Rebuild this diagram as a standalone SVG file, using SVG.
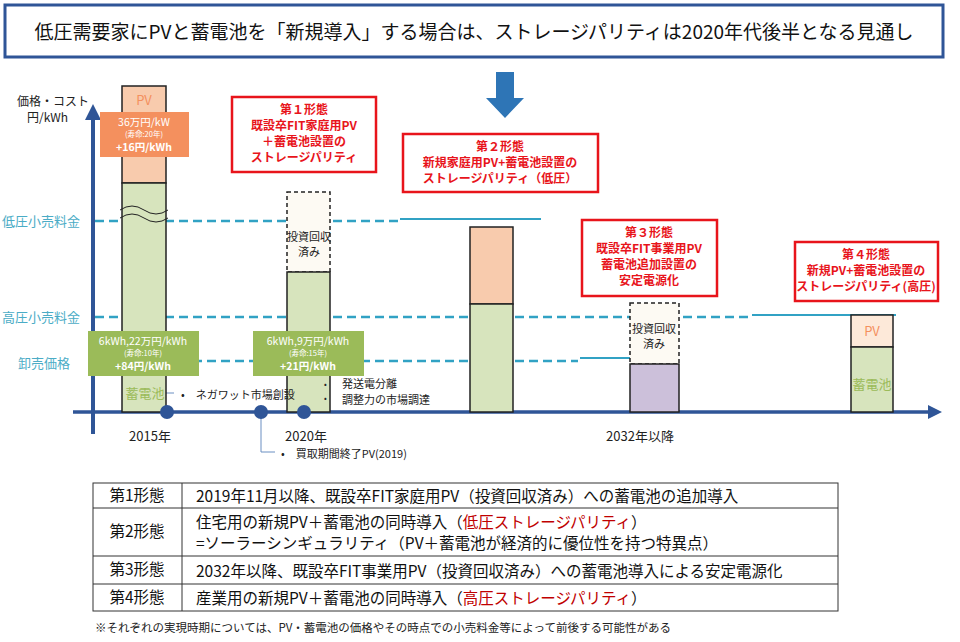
<svg xmlns="http://www.w3.org/2000/svg" width="960" height="642" viewBox="0 0 960 642">
<defs>
<style>
text{font-family:"Noto Sans CJK JP","Noto Sans",sans-serif}
.rb{fill:#fff;stroke:#e8141b;stroke-width:2.5}
.rt{fill:#e8141b;font-size:12px;font-weight:bold;text-anchor:middle}
.lbl{fill:#4bacc6;font-size:13px}
.dash{stroke:#31a2c4;stroke-width:2.5;stroke-dasharray:9,5;fill:none}
.sol{stroke:#31a2c4;stroke-width:2;fill:none}
.bar{stroke:#222;stroke-width:1.5}
.wt{fill:#fff;text-anchor:middle}
.bk{fill:#222;font-size:11px}
.tb{fill:none;stroke:#333;stroke-width:1}
.tt{fill:#111;font-size:15.5px}
</style>
<marker id="ah" viewBox="0 0 10 10" refX="5" refY="5" markerWidth="4" markerHeight="4" orient="auto"><path d="M0,0L10,5L0,10z" fill="#2f5597"/></marker>
</defs>
<rect width="960" height="642" fill="#fff"/>
<g id="title"><rect x="5" y="5" width="938" height="52" fill="#fff" stroke="#2f5597" stroke-width="3"/>
<text x="474" y="39" text-anchor="middle" font-size="19" fill="#111">低圧需要家にPVと蓄電池を「新規導入」する場合は、ストレージパリティは2020年代後半となる見通し</text></g>
<g id="downarrow"><path d="M496,72h18v26h10l-19,20l-19,-20h10z" fill="#2e75b6"/></g>
<g id="connectors">
<line x1="93" y1="434" x2="93" y2="112" stroke="#2f5597" stroke-width="4" marker-end="url(#ah)"/>
<line x1="73" y1="412" x2="935" y2="412" stroke="#2f5597" stroke-width="3.5" marker-end="url(#ah)"/>
<path class="dash" d="M95,221H400"/><path class="sol" d="M400,219H541"/>
<path class="dash" d="M95,317H750"/><path class="sol" d="M752,315H896"/>
<path class="dash" d="M95,361H578"/><path class="sol" d="M580,358H677"/>
<path d="M166,393h8M304,405V390h16M261,418V452h14" fill="none" stroke="#6b8fc2" stroke-width="1"/>
</g>
<g id="axislabels">
<text x="17" y="106" font-size="12" fill="#222">価格・コスト</text>
<text x="27" y="122" font-size="12" fill="#222">円/kWh</text>
<text class="lbl" x="2" y="226">低圧小売料金</text>
<text class="lbl" x="2" y="322">高圧小売料金</text>
<text class="lbl" x="18" y="368">卸売価格</text>
<text x="150" y="441" font-size="13" fill="#222" text-anchor="middle">2015年</text>
<text x="306" y="441" font-size="13" fill="#222" text-anchor="middle">2020年</text>
<text x="640" y="441" font-size="13" fill="#222" text-anchor="middle">2032年以降</text>
</g>
<g id="bar2015">
<rect class="bar" x="122" y="86" width="44" height="97" fill="#f8cbad"/>
<rect class="bar" x="122" y="183" width="44" height="229" fill="#d7e4bd"/>
<text x="144" y="105" text-anchor="middle" font-size="13" fill="#f4905e">PV</text>
<path d="M120,210q12,-8 24,0t24,0M120,218q12,-8 24,0t24,0" fill="none" stroke="#222" stroke-width="1"/>
<text x="145" y="398" text-anchor="middle" font-size="13" fill="#9bbb59">蓄電池</text>
<rect x="100" y="112" width="89" height="45" fill="#f4905e"/>
<text class="wt" x="144" y="126" font-size="10.5">36万円/kW</text>
<text class="wt" x="144" y="137" font-size="7.5">(寿命:20年)</text>
<text class="wt" x="144" y="151" font-size="10.5" font-weight="bold">+16円/kWh</text>
<rect x="88" y="331" width="111" height="45" fill="#9bbb59"/>
<text class="wt" x="143" y="345" font-size="10.5">6kWh,22万円/kWh</text>
<text class="wt" x="143" y="356" font-size="7.5">(寿命:10年)</text>
<text class="wt" x="143" y="370" font-size="10.5" font-weight="bold">+84円/kWh</text>
</g>
<g id="bar2020">
<rect x="287" y="192" width="43" height="80" fill="#fdfaf3" stroke="#222" stroke-width="1.5" stroke-dasharray="4,3"/>
<rect class="bar" x="287" y="272" width="43" height="140" fill="#d7e4bd"/>
<text x="309" y="241" text-anchor="middle" font-size="11" fill="#222">投資回収</text>
<text x="309" y="256" text-anchor="middle" font-size="11" fill="#222">済み</text>
<rect x="253" y="331" width="111" height="45" fill="#9bbb59"/>
<text class="wt" x="308" y="345" font-size="10.5">6kWh,9万円/kWh</text>
<text class="wt" x="308" y="356" font-size="7.5">(寿命:15年)</text>
<text class="wt" x="308" y="370" font-size="10.5" font-weight="bold">+21円/kWh</text>
</g>
<g id="dots" fill="#2f5597"><circle cx="167" cy="412" r="7"/><circle cx="261" cy="412" r="7"/><circle cx="304" cy="412" r="7"/></g>
<g id="notes">
<text class="bk" x="181" y="399">•　ネガワット市場創設</text>
<text x="324" y="387" font-size="8" fill="#222">•</text><text x="324" y="401" font-size="8" fill="#222">•</text>
<text class="bk" x="342" y="388">発送電分離</text>
<text class="bk" x="342" y="404">調整力の市場調達</text>
<text class="bk" x="281" y="458">•　買取期間終了PV(2019)</text>
</g>
<g id="box1"><rect class="rb" x="232" y="97" width="144" height="75"/>
<text class="rt" x="304" y="114">第１形態</text><text class="rt" x="304" y="130">既設卒FIT家庭用PV</text><text class="rt" x="304" y="146">＋蓄電池設置の</text><text class="rt" x="304" y="162">ストレージパリティ</text></g>
<g id="box2"><rect class="rb" x="403" y="134" width="195" height="58"/>
<text class="rt" x="500" y="151">第２形態</text><text class="rt" x="500" y="167">新規家庭用PV+蓄電池設置の</text><text class="rt" x="500" y="183">ストレージパリティ（低圧）</text></g>
<g id="bar3"><rect class="bar" x="470" y="227" width="43" height="77" fill="#f8cbad"/><rect class="bar" x="470" y="304" width="43" height="108" fill="#d7e4bd"/></g>
<g id="box3"><rect class="rb" x="582" y="220" width="135" height="76"/>
<text class="rt" x="649" y="237">第３形態</text><text class="rt" x="649" y="253">既設卒FIT事業用PV</text><text class="rt" x="649" y="269">蓄電池追加設置の</text><text class="rt" x="649" y="285">安定電源化</text></g>
<g id="bar4"><rect x="630" y="303" width="49" height="61" fill="#fdfaf3" stroke="#222" stroke-width="1.5" stroke-dasharray="4,3"/>
<rect class="bar" x="630" y="364" width="49" height="48" fill="#ccc0da"/>
<text x="654" y="333" text-anchor="middle" font-size="11" fill="#222">投資回収</text><text x="654" y="348" text-anchor="middle" font-size="11" fill="#222">済み</text></g>
<g id="box4"><rect class="rb" x="795" y="242" width="143" height="59"/>
<text class="rt" x="866" y="259">第４形態</text><text class="rt" x="866" y="275">新規PV+蓄電池設置の</text><text class="rt" x="866" y="291">ストレージパリティ(高圧)</text></g>
<g id="bar5"><rect class="bar" x="851" y="315" width="42" height="32" fill="#fde9d9"/><rect class="bar" x="851" y="347" width="42" height="65" fill="#d7e4bd"/>
<text x="872" y="336" text-anchor="middle" font-size="13" fill="#f4905e">PV</text>
<text x="872" y="389" text-anchor="middle" font-size="13" fill="#9bbb59">蓄電池</text></g>
<g id="table">
<rect class="tb" x="93" y="483" width="745" height="128"/>
<path class="tb" d="M182,483V611M93,508H838M93,556H838M93,584H838"/>
<text class="tt" x="137" y="501" text-anchor="middle" font-size="15">第1形態</text>
<text class="tt" x="137" y="537" text-anchor="middle" font-size="15">第2形態</text>
<text class="tt" x="137" y="575" text-anchor="middle" font-size="15">第3形態</text>
<text class="tt" x="137" y="603" text-anchor="middle" font-size="15">第4形態</text>
<text class="tt" x="196" y="502" font-size="16.5">2019年11月以降、既設卒FIT家庭用PV（投資回収済み）への蓄電池の追加導入</text>
<text class="tt" x="196" y="528">住宅用の新規PV＋蓄電池の同時導入（<tspan fill="#c00000">低圧ストレージパリティ</tspan>）</text>
<text class="tt" x="196" y="549">=ソーラーシンギュラリティ（PV＋蓄電池が経済的に優位性を持つ特異点）</text>
<text class="tt" x="196" y="577" font-size="17">2032年以降、既設卒FIT事業用PV（投資回収済み）への蓄電池導入による安定電源化</text>
<text class="tt" x="196" y="604">産業用の新規PV＋蓄電池の同時導入（<tspan fill="#c00000">高圧ストレージパリティ</tspan>）</text>
</g>
<text x="95" y="632" font-size="11.5" fill="#222">※それぞれの実現時期については、PV・蓄電池の価格やその時点での小売料金等によって前後する可能性がある</text>
</svg>
